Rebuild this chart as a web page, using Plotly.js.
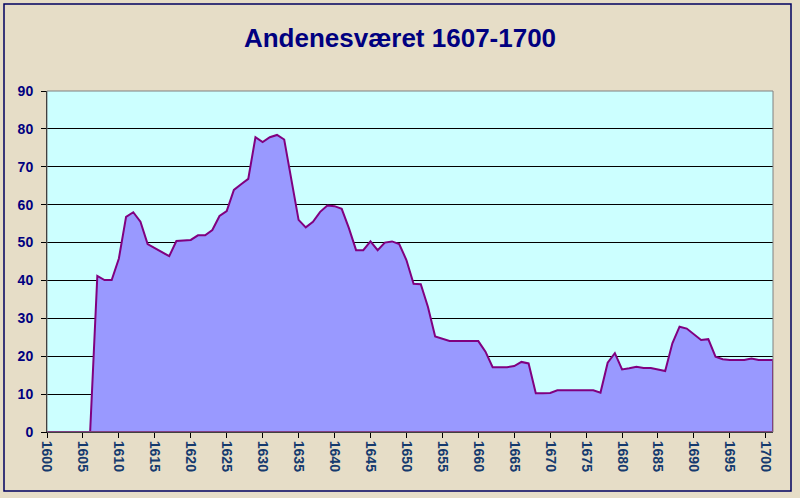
<!DOCTYPE html>
<html>
<head>
<meta charset="utf-8">
<script src="https://cdn.plot.ly/plotly-3.0.1.min.js"></script>
<style>html,body{margin:0;padding:0;background:#E6DDC7;}#chart{width:800px;height:498px;}</style>
</head>
<body>
<div id="chart"></div>
<script>
const titleText = "Andenesværet 1607-1700";
const years = [];
for (let y = 1600; y <= 1701; y++) years.push(y);
const values = [
  0, 0, 0, 0, 0, 0, 0,
  41.2, 40.1, 40.1,
  45.8, 56.8, 58.0, 55.5, 49.6, 48.5, 47.4, 46.4, 50.4, 50.5,
  50.7, 51.9, 51.9, 53.3, 57.0, 58.3, 63.9, 65.4, 66.8, 77.8,
  76.5, 77.8, 78.4, 77.2, 66.5, 56.0, 54.0, 55.5, 58.1, 59.8,
  59.6, 58.9, 53.8, 48.0, 48.0, 50.3, 48.0, 50.0, 50.3, 49.6,
  45.4, 39.1, 39.0, 33.0, 25.2, 24.7, 24.0, 24.0, 24.0, 24.0,
  24.0, 21.2, 17.1, 17.1, 17.1, 17.4, 18.5, 18.1, 10.2, 10.2,
  10.3, 11.0, 11.0, 11.0, 11.0, 11.0, 11.0, 10.4, 18.3, 20.8,
  16.5, 16.8, 17.2, 16.9, 16.9, 16.5, 16.1, 23.4, 27.8, 27.3,
  25.9, 24.3, 24.5, 19.9, 19.2, 19.0, 19.0, 19.0, 19.4, 19.0,
  19.0, 19.0
];
const xTickVals = [];
for (let y = 1600; y <= 1700; y += 5) xTickVals.push(y);
const yTickVals = [0, 10, 20, 30, 40, 50, 60, 70, 80, 90];

// closed polygon so the outline also runs down the right edge and along the base
const px = years.concat([years[years.length - 1], years[0]]);
const py = values.concat([0, 0]);

const trace = {
  x: px, y: py, type: 'scatter', mode: 'lines',
  fill: 'toself', fillcolor: '#9999FF',
  line: {color: '#800080', width: 2},
  hoverinfo: 'skip', showlegend: false
};

const L = 47, R = 773, T = 91, B = 432, W = 800, H = 498;
const pw = R - L, ph = B - T;
const layout = {
  width: W, height: H,
  margin: {l: L, r: W - R, t: T, b: H - B},
  paper_bgcolor: '#E6DDC7',
  plot_bgcolor: '#CCFFFF',
  title: {
    text: titleText,
    font: {family: 'Liberation Sans, Arial, sans-serif', size: 26, color: '#000080', weight: 'bold'},
    x: 0.5, xref: 'container', y: 1 - 38 / H, yref: 'container', yanchor: 'middle'
  },
  xaxis: {
    range: [1600, 1701], tickmode: 'array', tickvals: xTickVals,
    ticktext: xTickVals.map(String), tickangle: 90,
    ticks: 'outside', ticklen: 5, tickcolor: '#000000',
    showgrid: false, zeroline: false,
    showline: true, linecolor: '#000000', linewidth: 1,
    tickfont: {family: 'Liberation Sans, Arial, sans-serif', size: 14, color: '#153a6e', weight: 'bold'}
  },
  yaxis: {
    range: [0, 90], tickmode: 'array', tickvals: yTickVals,
    ticks: 'outside', ticklen: 5, tickcolor: '#000000',
    ticklabelstandoff: 5,
    showgrid: true, gridcolor: '#000000', gridwidth: 1,
    zeroline: false, showline: true, linecolor: '#000000', linewidth: 1,
    tickfont: {family: 'Liberation Sans, Arial, sans-serif', size: 14, color: '#000080', weight: 'bold'}
  },
  shapes: [
    {type: 'rect', xref: 'paper', yref: 'paper', x0: 0, x1: 1, y0: 0, y1: 1,
     line: {color: '#808080', width: 1}, fillcolor: 'rgba(0,0,0,0)', layer: 'above'},
    {type: 'rect', xref: 'paper', yref: 'paper',
     x0: (4 - L) / pw, x1: (791 - L) / pw, y0: (B - 491) / ph, y1: (B - 4) / ph,
     line: {color: '#000060', width: 1.5}, fillcolor: 'rgba(0,0,0,0)', layer: 'below'}
  ]
};

Plotly.newPlot('chart', [trace], layout, {staticPlot: true, displayModeBar: false});
</script>
</body>
</html>
